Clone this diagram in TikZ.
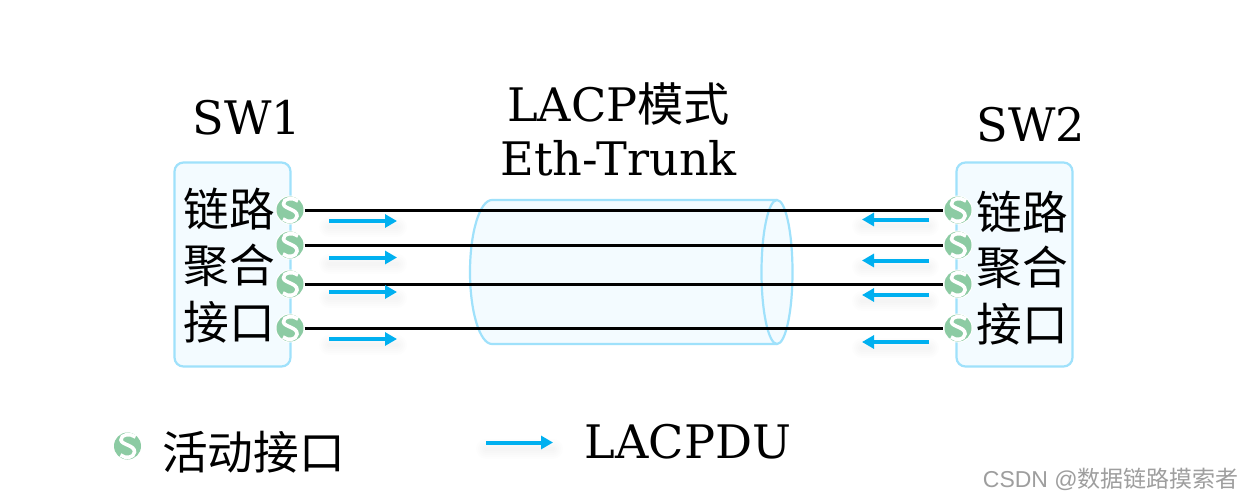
\documentclass[tikz,border=0pt]{standalone}
\usepackage{fontspec}
\setmainfont{DejaVu Serif}
\newfontfamily\cjk{Noto Sans CJK SC}
\newfontfamily\wm{Liberation Sans}
\newfontfamily\wmcjk{Noto Sans CJK SC}
\usetikzlibrary{arrows.meta}
\definecolor{edgeblue}{HTML}{9FE1FB}
\definecolor{fillblue}{HTML}{F3FBFF}
\definecolor{pdublue}{HTML}{00B0F0}
\definecolor{icongreen}{HTML}{8CCBA3}
\newcommand{\pduglowline}[2]{%
  \foreach \w in {4,8,12,16,20}{
    \draw[line width=\w pt,black,opacity=.006,line cap=round] ([yshift=-6pt]#1) -- ([yshift=-6pt]#2);
  }%
}
\tikzset{
  x=1pt,y=-1pt,
  swbox/.style={draw=edgeblue,fill=fillblue,line width=2.2pt,rounded corners=9pt},
  tube/.style={draw=edgeblue,fill=fillblue,line width=2.2pt},
  title/.style={font=\fontsize{46.2}{46}\selectfont,inner sep=0pt,anchor=center},
  zh/.style={font=\cjk\fontsize{45.7}{46}\selectfont,inner sep=0pt,anchor=center},
  link/.style={line width=3pt,black},
  pdu/.style={line width=4pt,pdublue,-{Triangle[length=12pt,width=13pt]}},
  iface/.style={circle,minimum size=29pt,inner sep=0pt,fill=white,
    path picture={
      \fill[icongreen] (path picture bounding box.center) circle[radius=13.5pt];
      \begin{scope}[shift={(path picture bounding box.center)}]
        \draw[white,line width=3.6pt,line cap=butt]
          (8,-9) .. controls (3,-13) and (-7,-12) .. (-6.5,-6)
          .. controls (-6,-1) and (7.5,-1) .. (7,6)
          .. controls (6.5,12) and (-2,13) .. (-7,9);
      \end{scope}
    }},
}
\begin{document}
\begin{tikzpicture}
\useasboundingbox (0,0) rectangle (1242,498);
\fill[white] (0,0) rectangle (1242,498);
% switches
\node[swbox,minimum width=116pt,minimum height=204pt,inner sep=0pt] (sw1) at (232.5,264.5) {};
\node[swbox,minimum width=116pt,minimum height=204pt,inner sep=0pt] (sw2) at (1014.5,264.5) {};
% tube
\fill[fillblue] (492,344) -- (777,344) -- (777,200) -- (492,200) arc[start angle=270,end angle=90,x radius=22,y radius=72] -- cycle;
\draw[tube,fill=none] (777,200) -- (492,200) arc[start angle=270,end angle=90,x radius=22,y radius=72] -- (777,344);
\draw[tube] (777,272) ellipse[x radius=15.5,y radius=72];
% titles
\node[title] (t1) at (247,118) {SW1};
\node[title] (t2) at (1031,125) {SW2};
\node[title] (t3) at (618.5,104) {LACP{\cjk 模式}};
\node[title] (t4) at (618.5,158) {Eth-Trunk};
% side labels
\node[zh] (l1) at (229.5,209) {链路};
\node[zh] (l2) at (229.5,265) {聚合};
\node[zh] (l3) at (229.5,322) {接口};
\node[zh] (r1) at (1022,212) {链路};
\node[zh] (r2) at (1022,267) {聚合};
\node[zh] (r3) at (1022,324) {接口};
% interfaces
\foreach \n/\y in {1/210,2/245,3/284,4/328}{
  \node[iface] (a\n) at (290,\y) {};
  \node[iface] (b\n) at (958,\y) {};
}
\draw[link] (a1.east) -- (b1.west);
\draw[link] (a2.east) -- (b2.west);
\draw[link] (a3.east) -- (b3.west);
\draw[link] (a4.east) -- (b4.west);
% PDU arrows
\foreach \n/\yl/\yr in {1/221/219.5,2/257.5/260.5,3/292/295,4/339/342}{
  \coordinate (ps\n) at (329,\yl);
  \coordinate (pe\n) at (397,\yl);
  \coordinate (qs\n) at (929,\yr);
  \coordinate (qe\n) at (862,\yr);
  \pduglowline{ps\n}{pe\n}
  \pduglowline{qs\n}{qe\n}
  \draw[pdu] (ps\n) -- (pe\n);
  \draw[pdu] (qs\n) -- (qe\n);
}
% legend
\node[iface] (lg) at (127.5,446) {};
\node[zh] (lgt) at (253.5,452) {活动接口};
\coordinate (ls) at (486,442.5);
\coordinate (le) at (553,442.5);
\pduglowline{ls}{le}
\draw[pdu] (ls) -- (le);
\node[title] (lgp) at (688,442) {LACPDU};
% watermark
\node[inner sep=0pt,anchor=east,text=black!38,font=\wm\fontsize{23}{23}\selectfont] (wm) at (1239,479) {CSDN @{\wmcjk 数据链路摸索者}};
\end{tikzpicture}
\end{document}
